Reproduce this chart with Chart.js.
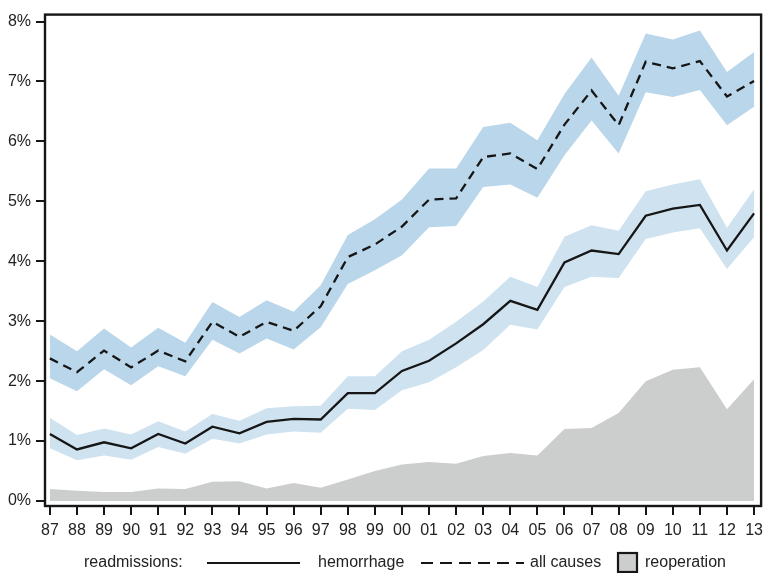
<!DOCTYPE html>
<html>
<head>
<meta charset="utf-8">
<script src="https://cdn.jsdelivr.net/npm/chart.js@4/dist/chart.umd.min.js"></script>
<style>
  html, body { margin: 0; padding: 0; background: #fff; }
  canvas { display: block; }
</style>
</head>
<body>
<canvas id="c" width="769" height="573"></canvas>
<script>
// Surgery years 1987–2013
const years = ['87','88','89','90','91','92','93','94','95','96','97','98','99','00','01','02','03','04','05','06','07','08','09','10','11','12','13'];

// Readmission rate (%), all causes, with confidence band
const allCauses   = [2.38, 2.15, 2.51, 2.23, 2.51, 2.33, 2.99, 2.74, 2.99, 2.84, 3.25, 4.07, 4.28, 4.58, 5.03, 5.05, 5.74, 5.80, 5.54, 6.28, 6.85, 6.27, 7.33, 7.22, 7.34, 6.75, 7.01];
const allCausesHi = [2.78, 2.50, 2.88, 2.56, 2.89, 2.64, 3.32, 3.07, 3.35, 3.16, 3.60, 4.44, 4.70, 5.03, 5.55, 5.55, 6.24, 6.31, 6.02, 6.79, 7.40, 6.76, 7.80, 7.70, 7.85, 7.16, 7.49];
const allCausesLo = [2.05, 1.83, 2.20, 1.93, 2.25, 2.08, 2.69, 2.46, 2.71, 2.53, 2.90, 3.62, 3.85, 4.10, 4.57, 4.59, 5.24, 5.28, 5.06, 5.77, 6.35, 5.80, 6.82, 6.74, 6.86, 6.27, 6.58];

// Readmission rate (%), hemorrhage, with confidence band
const hemorrhage   = [1.12, 0.86, 0.98, 0.88, 1.12, 0.96, 1.24, 1.13, 1.32, 1.37, 1.36, 1.80, 1.80, 2.17, 2.34, 2.63, 2.95, 3.34, 3.19, 3.98, 4.18, 4.12, 4.76, 4.88, 4.94, 4.18, 4.80];
const hemorrhageHi = [1.39, 1.10, 1.21, 1.11, 1.33, 1.16, 1.45, 1.34, 1.55, 1.58, 1.59, 2.08, 2.08, 2.50, 2.69, 2.99, 3.33, 3.74, 3.57, 4.41, 4.60, 4.51, 5.17, 5.28, 5.37, 4.56, 5.20];
const hemorrhageLo = [0.88, 0.68, 0.76, 0.69, 0.90, 0.79, 1.04, 0.96, 1.11, 1.16, 1.14, 1.54, 1.52, 1.85, 1.98, 2.23, 2.52, 2.94, 2.86, 3.57, 3.74, 3.72, 4.37, 4.48, 4.55, 3.87, 4.40];

// Reoperation rate (%)
const reoperation = [0.20, 0.17, 0.15, 0.15, 0.21, 0.20, 0.32, 0.33, 0.21, 0.30, 0.22, 0.36, 0.50, 0.61, 0.65, 0.62, 0.75, 0.80, 0.76, 1.20, 1.22, 1.47, 2.00, 2.19, 2.23, 1.53, 2.03];

// y-axis tick values (%)
const yTicks = [0, 1, 2, 3, 4, 5, 6, 7, 8];

const BAND_ALL = 'rgb(185,214,234)';
const BAND_HEM = 'rgb(207,226,240)';
const GREY = 'rgb(204,205,205)';
const INK = '#161616';
const FONT = '"Liberation Sans", Arial, sans-serif';

const pts = arr => arr.map((v, i) => ({ x: i, y: v }));

const base = { pointRadius: 0, pointHoverRadius: 0, tension: 0, borderWidth: 0 };

const frameAndLegend = {
  id: 'frameAndLegend',
  afterDraw(chart) {
    const { ctx, chartArea: a } = chart;
    ctx.save();
    // plot frame
    ctx.strokeStyle = INK;
    ctx.lineWidth = 2.4;
    ctx.strokeRect(a.left, a.top, a.right - a.left, a.bottom - a.top);

    // legend row
    const y = 563;
    ctx.lineWidth = 2.2;
    ctx.font = '16px ' + FONT;
    ctx.fillStyle = '#222';
    ctx.textBaseline = 'middle';
    ctx.textAlign = 'left';
    ctx.fillText('readmissions:', 84, y);

    ctx.beginPath();
    ctx.moveTo(207, y); ctx.lineTo(300, y);
    ctx.stroke();
    ctx.fillText('hemorrhage', 318, y);

    ctx.setLineDash([12, 7]);
    ctx.beginPath();
    ctx.moveTo(421, y); ctx.lineTo(524, y);
    ctx.stroke();
    ctx.setLineDash([]);
    ctx.fillText('all causes', 530, y);

    ctx.fillStyle = GREY;
    ctx.fillRect(618, 553, 19, 19);
    ctx.strokeRect(618, 553, 19, 19);
    ctx.fillStyle = '#222';
    ctx.fillText('reoperation', 645, y);
    ctx.restore();
  }
};

new Chart(document.getElementById('c'), {
  type: 'line',
  data: {
    datasets: [
      { ...base, label: 'all causes', data: pts(allCauses), borderColor: INK, borderWidth: 2.3, borderDash: [9, 6], fill: false, order: 1 },
      { ...base, label: 'hemorrhage', data: pts(hemorrhage), borderColor: INK, borderWidth: 2.3, fill: false, order: 1 },
      { ...base, label: 'all causes upper', data: pts(allCausesHi), borderColor: 'transparent', backgroundColor: BAND_ALL, fill: '+1', order: 5 },
      { ...base, label: 'all causes lower', data: pts(allCausesLo), borderColor: 'transparent', fill: false, order: 5 },
      { ...base, label: 'hemorrhage upper', data: pts(hemorrhageHi), borderColor: 'transparent', backgroundColor: BAND_HEM, fill: '+1', order: 5 },
      { ...base, label: 'hemorrhage lower', data: pts(hemorrhageLo), borderColor: 'transparent', fill: false, order: 5 },
      { ...base, label: 'reoperation', data: pts(reoperation), borderColor: 'transparent', backgroundColor: GREY, fill: 'origin', order: 6 }
    ]
  },
  options: {
    responsive: false,
    animation: false,
    devicePixelRatio: 1,
    layout: { padding: { top: 10, right: 4, left: 0, bottom: 0 } },
    plugins: { legend: { display: false }, tooltip: { enabled: false } },
    scales: {
      x: {
        type: 'linear',
        min: -0.18,
        max: years.length - 1 + 0.26,
        afterBuildTicks: s => { s.ticks = years.map((_, i) => ({ value: i })); },
        afterFit: s => { s.height = 67; },
        border: { display: false },
        grid: { drawOnChartArea: false, drawTicks: true, tickLength: 9, color: INK, lineWidth: 2 },
        ticks: {
          autoSkip: false, maxRotation: 0, padding: 6, color: '#222',
          font: { family: FONT, size: 16 },
          callback: v => years[v]
        }
      },
      y: {
        min: -0.083,
        max: 8.116,
        afterBuildTicks: s => { s.ticks = yTicks.map(v => ({ value: v })); },
        afterFit: s => { s.width = 45; },
        border: { display: false },
        grid: { drawOnChartArea: false, drawTicks: true, tickLength: 9, color: INK, lineWidth: 2 },
        ticks: {
          padding: 5, color: '#222',
          font: { family: FONT, size: 16 },
          callback: v => v + '%'
        }
      }
    }
  },
  plugins: [frameAndLegend]
});
</script>
</body>
</html>
